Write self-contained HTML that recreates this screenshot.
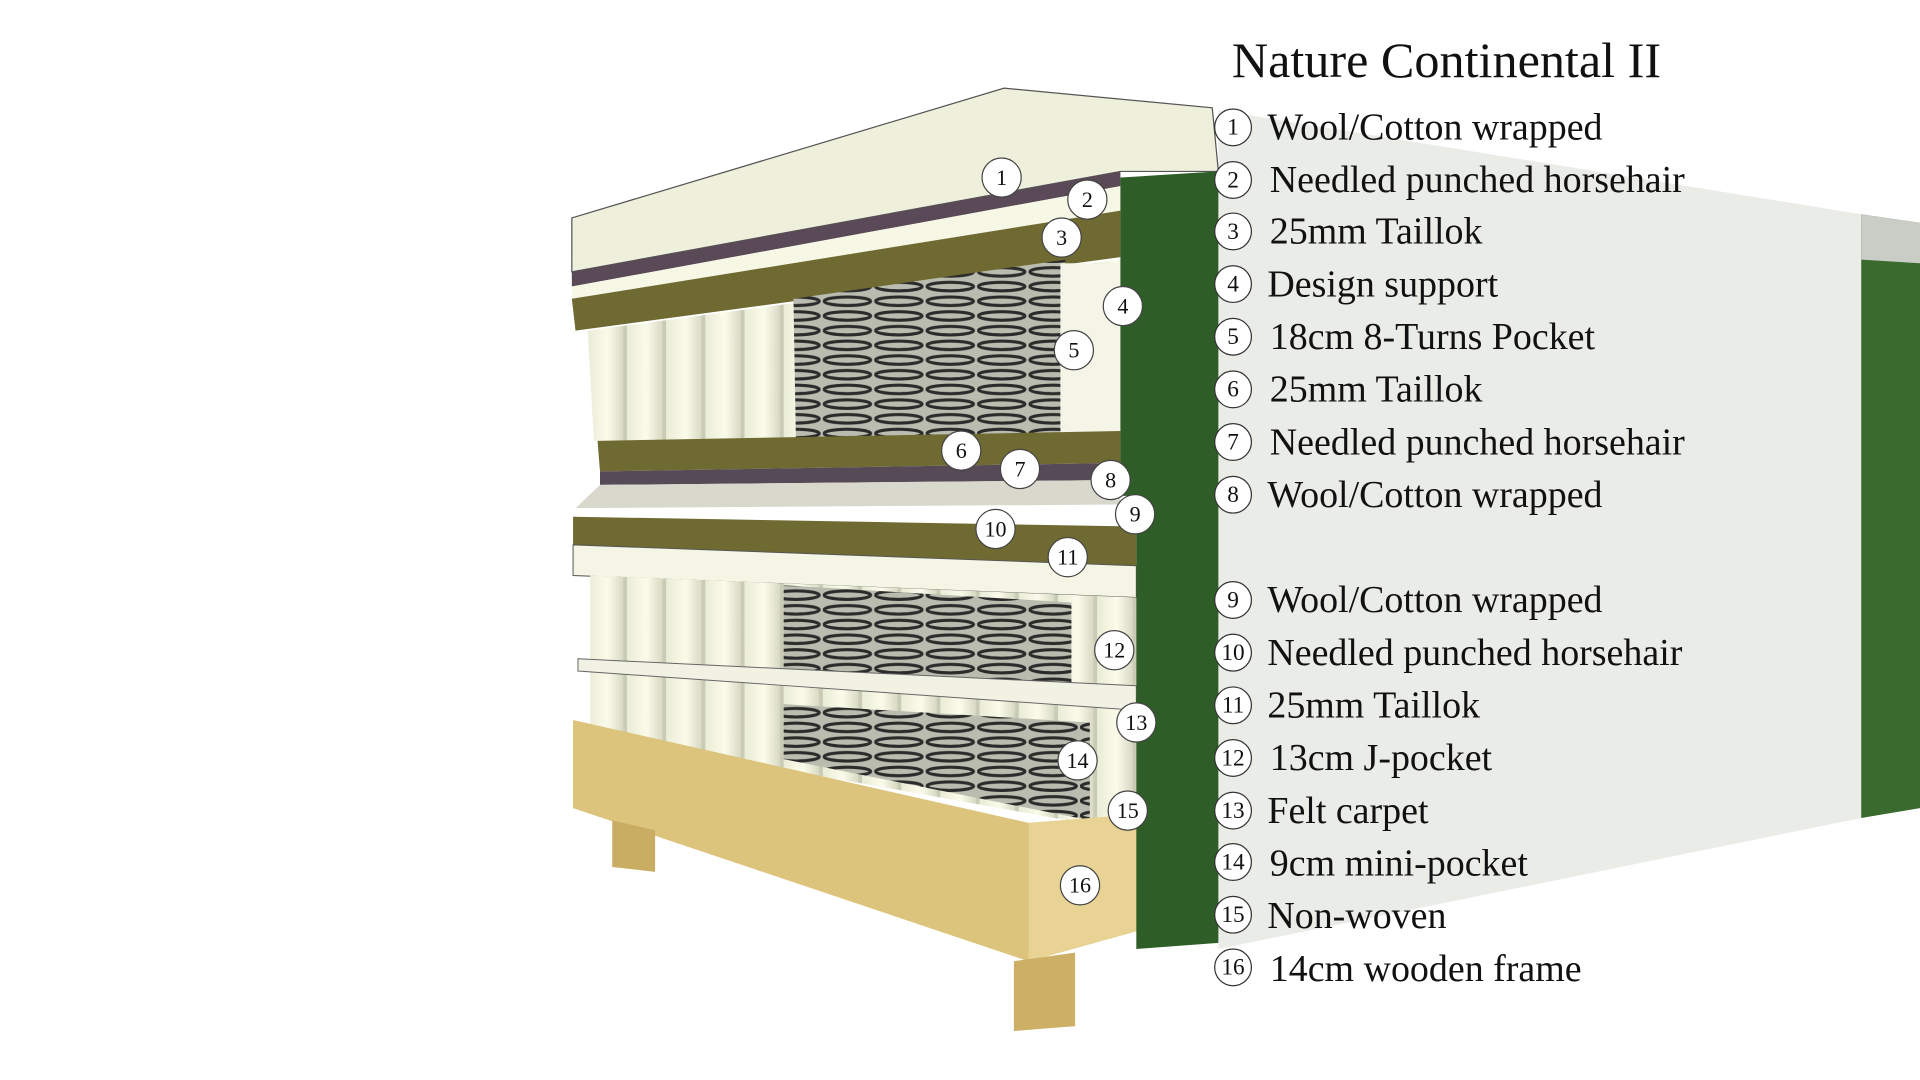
<!DOCTYPE html>
<html><head><meta charset="utf-8"><style>
html,body{margin:0;padding:0;background:#fff;width:1920px;height:1080px;overflow:hidden}
svg{display:block}
</style></head><body>
<svg width="1920" height="1080" viewBox="0 0 1568 882" xmlns="http://www.w3.org/2000/svg">
<defs>
<linearGradient id="coil" x1="0" x2="1"><stop offset="0" stop-color="#e9ecd6"/><stop offset=".5" stop-color="#fbfbea"/><stop offset="1" stop-color="#cfd2bb"/></linearGradient>
<pattern id="spr" width="42" height="12" patternUnits="userSpaceOnUse"><rect width="42" height="12" fill="#b9bcae"/><ellipse cx="20" cy="6" rx="19" ry="3.5" fill="none" stroke="#2b2b2b" stroke-width="2.5"/></pattern>
<pattern id="pock" width="32" height="20" patternUnits="userSpaceOnUse"><rect width="32" height="20" fill="url(#coil)"/><rect x="29" width="3" height="20" fill="#c9cbb4"/></pattern>
</defs>
<polygon points="995,90 1520,175 1520,668 995,775" fill="#eaece7"/>
<polygon points="1520,175 1568,182 1568,660 1520,668" fill="#3b6a2f"/>
<polygon points="1520,175 1568,182 1568,215 1520,212" fill="#c9cdc6"/>
<!-- topper -->
<polygon points="467,178 820,72 990,88 995,140 915,140 467,222" fill="#eef0dc" stroke="#555" stroke-width="1"/>
<polygon points="467,222 915,140 915,152 467,234" fill="#5a4a57"/>
<polygon points="467,234 915,152 915,172 467,244" fill="#f6f7e4"/>
<polygon points="467,244 915,172 915,210 470,270" fill="#6f6a32"/>
<!-- upper springs -->
<polygon points="480,270 915,212 915,355 485,360" fill="url(#pock)"/>
<polygon points="648,244 870,212 870,357 650,360" fill="url(#spr)"/>
<rect x="866" y="215" width="49" height="140" fill="#f4f5e6"/>
<polygon points="488,360 915,352 915,378 490,385" fill="#6f6a32"/>
<polygon points="490,385 915,378 915,392 490,396" fill="#574a57"/>
<polygon points="490,396 915,392 915,412 470,415" fill="#d8d9cc"/>
<!-- lower mattress -->
<polygon points="468,422 928,430 928,462 468,445" fill="#6f6a32"/>
<polygon points="468,445 928,462 928,488 468,470" fill="#f4f5e4" stroke="#555" stroke-width=".8"/>
<polygon points="482,470 928,488 928,560 482,540" fill="url(#pock)"/>
<polygon points="640,478 875,492 875,560 640,555" fill="url(#spr)"/>
<polygon points="482,548 928,580 928,680 482,600" fill="url(#pock)"/>
<polygon points="640,575 890,590 890,670 640,620" fill="url(#spr)"/>
<polygon points="472,538 928,560 928,580 472,548" fill="#f1f2e4" stroke="#666" stroke-width=".8"/>
<!-- frame -->
<polygon points="468,588 840,672 930,665 930,760 840,785 468,660" fill="#dcc47c"/>
<polygon points="840,672 930,665 930,760 840,785" fill="#e8d394"/>
<polygon points="500,670 535,678 535,712 500,708" fill="#c9ad62"/>
<polygon points="828,785 878,778 878,838 828,842" fill="#cdb066"/>
<polygon points="915,145 995,140 995,770 928,775 928,405 915,405" fill="#2f5d28"/>
<g font-family="Liberation Serif, serif" font-size="18" text-anchor="middle" fill="#111">
<g stroke="#444" stroke-width="1" fill="#fff">
<circle cx="818" cy="145" r="16"/><circle cx="888" cy="163" r="16"/><circle cx="867" cy="194" r="16"/><circle cx="917" cy="250" r="16"/><circle cx="877" cy="286" r="16"/><circle cx="785" cy="368" r="16"/><circle cx="833" cy="383" r="16"/><circle cx="907" cy="392" r="16"/><circle cx="927" cy="420" r="16"/><circle cx="813" cy="432" r="16"/><circle cx="872" cy="455" r="16"/><circle cx="910" cy="531" r="16"/><circle cx="928" cy="590" r="16"/><circle cx="880" cy="621" r="16"/><circle cx="921" cy="662" r="16"/><circle cx="882" cy="723" r="16"/>
</g>
<text x="818" y="151">1</text><text x="888" y="169">2</text><text x="867" y="200">3</text><text x="917" y="256">4</text><text x="877" y="292">5</text><text x="785" y="374">6</text><text x="833" y="389">7</text><text x="907" y="398">8</text><text x="927" y="426">9</text><text x="813" y="438">10</text><text x="872" y="461">11</text><text x="910" y="537">12</text><text x="928" y="596">13</text><text x="880" y="627">14</text><text x="921" y="668">15</text><text x="882" y="729">16</text>
</g>
<g font-family="Liberation Serif, serif" fill="#111">
<text x="1006" y="63" font-size="41">Nature Continental II</text>
<g font-size="31">
<text x="1035" y="114">Wool/Cotton wrapped</text>
<text x="1037" y="157">Needled punched horsehair</text>
<text x="1037" y="199">25mm Taillok</text>
<text x="1035" y="242">Design support</text>
<text x="1037" y="285">18cm 8-Turns Pocket</text>
<text x="1037" y="328">25mm Taillok</text>
<text x="1037" y="371">Needled punched horsehair</text>
<text x="1035" y="414">Wool/Cotton wrapped</text>
<text x="1035" y="500">Wool/Cotton wrapped</text>
<text x="1035" y="543">Needled punched horsehair</text>
<text x="1035" y="586">25mm Taillok</text>
<text x="1037" y="629">13cm J-pocket</text>
<text x="1035" y="672">Felt carpet</text>
<text x="1037" y="715">9cm mini-pocket</text>
<text x="1035" y="758">Non-woven</text>
<text x="1037" y="801">14cm wooden frame</text>
</g>
</g>
<g stroke="#333" stroke-width="1" fill="#fff" font-family="Liberation Serif, serif" font-size="19" text-anchor="middle">
<circle cx="1007" cy="104" r="15"/><circle cx="1007" cy="147" r="15"/><circle cx="1007" cy="189" r="15"/><circle cx="1007" cy="232" r="15"/><circle cx="1007" cy="275" r="15"/><circle cx="1007" cy="318" r="15"/><circle cx="1007" cy="361" r="15"/><circle cx="1007" cy="404" r="15"/><circle cx="1007" cy="490" r="15"/><circle cx="1007" cy="533" r="15"/><circle cx="1007" cy="576" r="15"/><circle cx="1007" cy="619" r="15"/><circle cx="1007" cy="662" r="15"/><circle cx="1007" cy="704" r="15"/><circle cx="1007" cy="747" r="15"/><circle cx="1007" cy="790" r="15"/>
<g stroke="none" fill="#111">
<text x="1007" y="110">1</text><text x="1007" y="153">2</text><text x="1007" y="195">3</text><text x="1007" y="238">4</text><text x="1007" y="281">5</text><text x="1007" y="324">6</text><text x="1007" y="367">7</text><text x="1007" y="410">8</text><text x="1007" y="496">9</text><text x="1007" y="539">10</text><text x="1007" y="582">11</text><text x="1007" y="625">12</text><text x="1007" y="668">13</text><text x="1007" y="710">14</text><text x="1007" y="753">15</text><text x="1007" y="796">16</text>
</g></g>
</svg>
</body></html>
